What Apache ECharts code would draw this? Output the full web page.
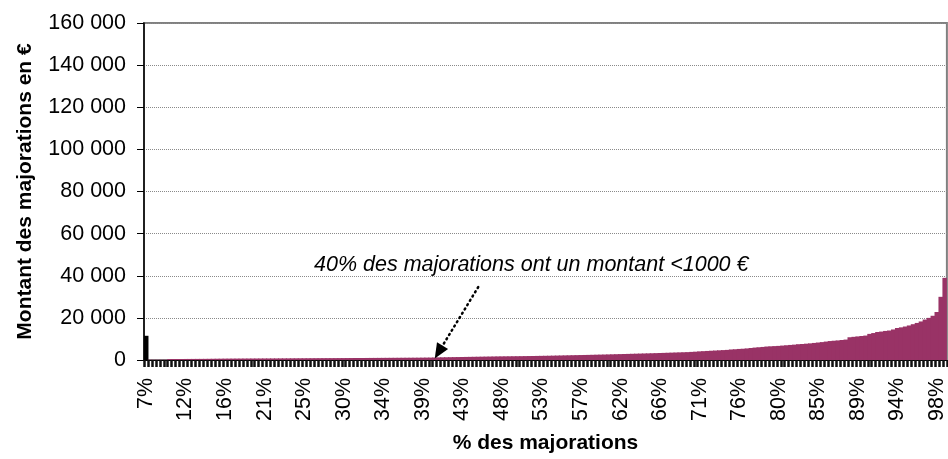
<!DOCTYPE html>
<html>
<head>
<meta charset="utf-8">
<script src="https://cdn.jsdelivr.net/npm/echarts@6/dist/echarts.min.js"></script>
<style>
html,body{margin:0;padding:0;background:#fff;}
#chart{width:948px;height:459px;}
</style>
</head>
<body>
<div id="chart"></div>
<script>
// Tick labels shown every 10th category on the x axis
const tickLabels = ["7%","12%","16%","21%","25%","30%","34%","39%","43%","48%","53%","57%","62%","66%","71%","76%","80%","85%","89%","94%","98%"];

// Montant des majorations (€), sorted, one value per category
const values = [
  11500, 100, 100, 100, 100, 100, 450, 460, 470, 480,
  490, 500, 510, 520, 530, 540, 560, 580, 600, 620,
  640, 650, 660, 670, 680, 690, 700, 705, 710, 720,
  730, 735, 740, 750, 760, 770, 780, 790, 800, 810,
  820, 830, 840, 850, 860, 870, 875, 880, 890, 900,
  910, 920, 930, 940, 950, 960, 970, 980, 990, 1000,
  1010, 1020, 1030, 1040, 1050, 1060, 1070, 1080, 1090, 1100,
  1120, 1140, 1150, 1180, 1250, 1280, 1310, 1340, 1370, 1400,
  1430, 1460, 1490, 1520, 1550, 1580, 1610, 1640, 1670, 1700,
  1720, 1740, 1760, 1780, 1800, 1820, 1850, 1880, 1910, 1940,
  1970, 2000, 2030, 2070, 2110, 2150, 2190, 2230, 2270, 2310,
  2350, 2390, 2430, 2470, 2520, 2560, 2600, 2650, 2700, 2750,
  2800, 2850, 2900, 2950, 3000, 3050, 3100, 3150, 3200, 3260,
  3320, 3380, 3440, 3500, 3560, 3620, 3680, 3740, 3850, 3950,
  4100, 4200, 4300, 4400, 4500, 4600, 4700, 4800, 5000, 5100,
  5250, 5350, 5500, 5700, 5900, 6050, 6200, 6400, 6500, 6600,
  6700, 6850, 7000, 7150, 7300, 7500, 7600, 7750, 7900, 8100,
  8300, 8500, 8750, 9000, 9150, 9300, 9500, 9700, 10800, 11000,
  11200, 11400, 11600, 12400, 12800, 13300, 13500, 13800, 14000, 14500,
  15200, 15500, 15900, 16400, 17000, 17600, 18300, 19200, 20000, 21000,
  22800, 30000, 39000
];

// Category positions (index of each sorted majoration)
const categories = values.map((v, i) => String(i));

const yTitle = "Montant des majorations en €";
const xTitle = "% des majorations";
const note = "40% des majorations ont un montant <1000 €";
// Annotation arrow endpoints in data space [category index, value]
const arrowFrom = ["84", 34600];
const arrowTo = ["74", 3750];

const FONT = "'Liberation Sans', Arial, sans-serif";
const chart = echarts.init(document.getElementById('chart'), null, {renderer: 'canvas'});

const seriesData = values.map((v, i) => i === 0
  ? {value: v, itemStyle: {color: '#000000'}}
  : v);

chart.setOption({
  animation: false,
  backgroundColor: '#ffffff',
  grid: {
    left: 144, right: -2, top: 23, bottom: 94,
    show: true, borderColor: '#808080', borderWidth: 2, backgroundColor: 'transparent'
  },
  xAxis: {
    type: 'category',
    data: categories,
    boundaryGap: true,
    name: xTitle,
    nameLocation: 'middle',
    nameGap: 73,
    nameTextStyle: {fontFamily: FONT, fontSize: 21, fontWeight: 'bold', color: '#000'},
    axisLine: {lineStyle: {color: '#000', width: 1}},
    axisTick: {show: true, interval: 0, length: 7, lineStyle: {color: '#111', width: 2.5}},
    axisLabel: {
      interval: 9,
      rotate: 90,
      margin: 18,
      fontFamily: FONT, fontSize: 21.5, color: '#000',
      formatter: (v, i) => (i % 10 === 0 ? tickLabels[i / 10] : '')
    },
    splitLine: {show: false}
  },
  yAxis: {
    type: 'value',
    min: 0, max: 160000, interval: 20000,
    name: yTitle,
    nameLocation: 'middle',
    nameRotate: 90,
    nameGap: 108,
    nameTextStyle: {fontFamily: FONT, fontSize: 21, fontWeight: 'bold', color: '#000'},
    axisLine: {show: true, lineStyle: {color: '#000', width: 1.5}},
    axisTick: {show: true, length: 7, lineStyle: {color: '#000', width: 1}},
    axisLabel: {
      margin: 18,
      fontFamily: FONT, fontSize: 21.5, color: '#000',
      formatter: v => String(v).replace(/\B(?=(\d{3})+(?!\d))/g, ' ')
    },
    splitLine: {show: true, lineStyle: {color: '#8a8a8a', type: 'dotted', width: 1}}
  },
  series: [{
    type: 'bar',
    data: seriesData,
    barWidth: 5,
    barGap: '-100%',
    itemStyle: {color: '#993366'},
    markLine: {
      silent: true,
      symbol: ['none', 'triangle'],
      symbolSize: [13, 15],
      label: {show: false},
      lineStyle: {color: '#000', width: 2.5, type: [1, 4], cap: 'round'},
      emphasis: {disabled: true},
      data: [[{coord: arrowFrom}, {coord: arrowTo}]]
    }
  }],
  graphic: [{
    type: 'text',
    left: 314,
    top: 254,
    silent: true,
    style: {
      text: note,
      fontFamily: FONT, fontSize: 21.5, fontStyle: 'italic',
      fill: '#000'
    }
  }]
});
</script>
</body>
</html>
